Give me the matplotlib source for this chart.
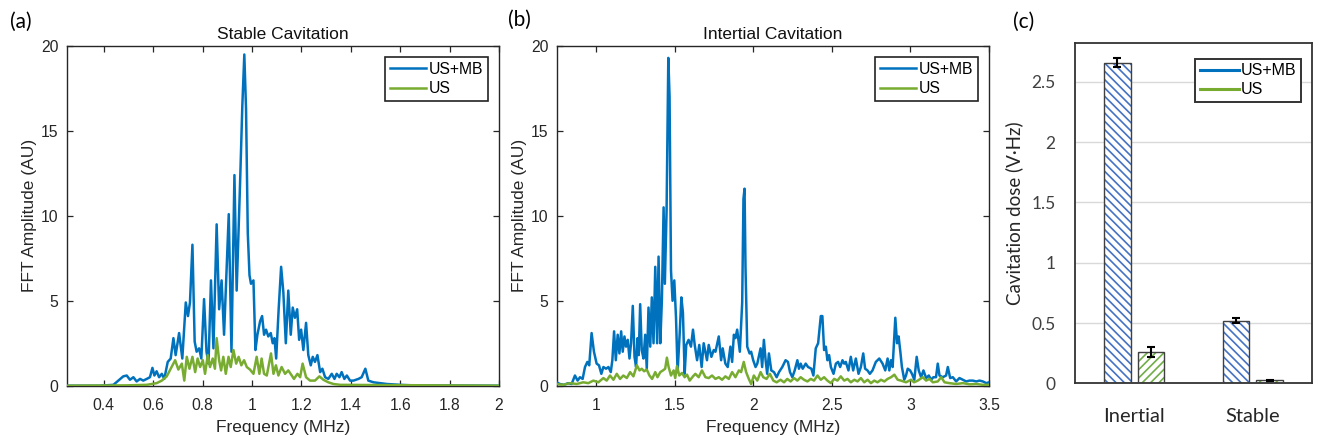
import matplotlib
matplotlib.use("Agg")
import matplotlib.pyplot as plt
from matplotlib.lines import Line2D

# ---------------- data ----------------
# (a) Stable cavitation spectrum
stable_f_mb = [0.25, 0.385, 0.439, 0.459, 0.479, 0.493, 0.506, 0.520, 0.533, 0.547, 0.560, 0.574,
               0.587, 0.597, 0.605, 0.614, 0.624, 0.635, 0.645, 0.659, 0.671, 0.682, 0.691, 0.705,
               0.718, 0.732, 0.741, 0.749, 0.759, 0.768, 0.776, 0.786, 0.795, 0.806, 0.816, 0.824,
               0.834, 0.844, 0.857, 0.867, 0.877, 0.887, 0.906, 0.917, 0.929, 0.938, 0.952, 0.961,
               0.969, 0.976, 0.983, 0.990, 0.996, 1.006, 1.014, 1.022, 1.033, 1.041, 1.049, 1.057,
               1.066, 1.076, 1.084, 1.091, 1.098, 1.108, 1.118, 1.127, 1.137, 1.147, 1.157, 1.165,
               1.174, 1.183, 1.191, 1.199, 1.208, 1.219, 1.228, 1.238, 1.246, 1.255, 1.265, 1.276,
               1.285, 1.296, 1.309, 1.323, 1.334, 1.343, 1.354, 1.363, 1.374, 1.384, 1.397, 1.411,
               1.431, 1.444, 1.459, 1.471, 1.492, 1.519, 1.546, 1.600, 1.654, 2.0]
stable_a_mb = [0.0, 0.0, 0.05, 0.3, 0.55, 0.6, 0.35, 0.5, 0.25, 0.4, 0.3, 0.4,
               0.5, 1.05, 0.6, 0.85, 0.5, 0.7, 0.4, 1.4, 1.6, 2.8, 1.8, 3.1,
               1.6, 4.9, 4.1, 4.9, 8.3, 2.6, 2.0, 2.2, 1.6, 5.1, 2.0, 1.3,
               6.2, 2.2, 9.5, 4.5, 6.2, 3.0, 10.1, 2.0, 12.4, 5.6, 12.0, 16.5,
               19.5, 16.3, 9.0, 6.5, 6.0, 6.2, 2.1, 3.0, 3.8, 4.1, 3.0, 3.3,
               2.9, 3.1, 2.5, 2.8, 1.6, 4.5, 7.0, 5.5, 2.5, 5.6, 3.0, 4.6,
               4.0, 4.5, 2.7, 3.3, 2.1, 3.7, 1.8, 1.2, 1.7, 1.4, 1.8, 0.8,
               1.0, 0.5, 0.4, 0.7, 0.4, 0.7, 0.5, 0.8, 0.4, 0.6, 0.3, 0.3,
               0.4, 0.5, 1.0, 0.3, 0.2, 0.15, 0.1, 0.05, 0.02, 0.0]

stable_f_us = [0.25, 0.493, 0.574, 0.614, 0.635, 0.655, 0.671, 0.689, 0.702, 0.716, 0.726, 0.736,
               0.747, 0.759, 0.770, 0.780, 0.790, 0.801, 0.810, 0.821, 0.830, 0.841, 0.850, 0.857,
               0.867, 0.875, 0.884, 0.894, 0.905, 0.914, 0.925, 0.936, 0.946, 0.957, 0.968, 0.979,
               0.992, 1.006, 1.019, 1.030, 1.039, 1.049, 1.060, 1.077, 1.087, 1.097, 1.107, 1.120,
               1.134, 1.147, 1.161, 1.170, 1.184, 1.195, 1.205, 1.219, 1.235, 1.255, 1.273, 1.289,
               1.309, 1.330, 1.357, 2.0]
stable_a_us = [0.0, 0.02, 0.05, 0.15, 0.3, 0.55, 1.0, 1.5, 0.95, 1.3, 0.3, 1.7,
               1.0, 1.7, 0.8, 1.6, 1.1, 1.5, 0.7, 1.8, 1.1, 1.6, 1.0, 2.8,
               1.5, 0.9, 1.7, 0.7, 1.7, 1.1, 2.1, 1.3, 1.7, 1.2, 1.5, 1.1,
               0.95, 0.7, 1.7, 0.7, 1.6, 0.7, 0.6, 1.9, 0.7, 1.2, 0.6, 1.1,
               0.7, 0.9, 0.6, 0.4, 0.7, 0.5, 1.3, 0.5, 0.3, 0.3, 0.55, 0.35,
               0.2, 0.1, 0.05, 0.0]

# (b) Inertial cavitation spectrum
inertial_f_mb = [0.749, 0.770, 0.796, 0.823, 0.845, 0.866, 0.883, 0.898, 0.915, 0.930, 0.945, 0.957,
                 0.972, 0.987, 1.004, 1.019, 1.034, 1.047, 1.064, 1.079, 1.094, 1.104, 1.115, 1.126,
                 1.138, 1.149, 1.160, 1.170, 1.181, 1.191, 1.202, 1.213, 1.223, 1.234, 1.245, 1.255,
                 1.264, 1.272, 1.281, 1.291, 1.302, 1.313, 1.323, 1.334, 1.345, 1.355, 1.366, 1.377,
                 1.389, 1.398, 1.409, 1.419, 1.430, 1.438, 1.449, 1.460, 1.468, 1.477, 1.487, 1.498,
                 1.509, 1.519, 1.532, 1.543, 1.553, 1.564, 1.574, 1.589, 1.604, 1.617, 1.628, 1.643,
                 1.657, 1.672, 1.685, 1.706, 1.717, 1.734, 1.749, 1.760, 1.781, 1.796, 1.806, 1.823,
                 1.838, 1.855, 1.866, 1.877, 1.887, 1.898, 1.915, 1.930, 1.938, 1.945, 1.951, 1.962,
                 1.977, 1.987, 2.000, 2.015, 2.026, 2.047, 2.057, 2.068, 2.079, 2.089, 2.100, 2.115,
                 2.132, 2.149, 2.164, 2.185, 2.206, 2.221, 2.234, 2.249, 2.264, 2.281, 2.291, 2.302,
                 2.315, 2.334, 2.349, 2.370, 2.383, 2.398, 2.413, 2.430, 2.440, 2.451, 2.462, 2.472,
                 2.483, 2.494, 2.511, 2.526, 2.540, 2.553, 2.568, 2.579, 2.589, 2.606, 2.621, 2.636,
                 2.653, 2.670, 2.685, 2.700, 2.712, 2.727, 2.742, 2.759, 2.780, 2.802, 2.823, 2.840,
                 2.855, 2.866, 2.876, 2.887, 2.904, 2.915, 2.925, 2.936, 2.946, 2.961, 2.972, 2.983,
                 2.998, 3.010, 3.025, 3.040, 3.053, 3.068, 3.083, 3.100, 3.117, 3.132, 3.146, 3.163,
                 3.174, 3.185, 3.206, 3.227, 3.238, 3.253, 3.270, 3.291, 3.312, 3.334, 3.355, 3.376,
                 3.397, 3.419, 3.440, 3.461, 3.483, 3.5]
inertial_a_mb = [0.2, 0.1, 0.05, 0.15, 0.1, 0.6, 0.3, 0.5, 0.4, 1.1, 1.4, 1.2,
                 3.1, 2.0, 1.3, 1.2, 0.7, 1.1, 1.0, 1.1, 0.8, 1.5, 3.2, 1.5,
                 3.0, 1.9, 3.2, 2.0, 2.9, 2.3, 2.7, 1.6, 2.5, 4.7, 1.7, 1.1,
                 2.8, 1.8, 4.8, 2.1, 1.6, 3.0, 1.0, 4.6, 2.3, 5.2, 2.5, 7.0,
                 2.5, 7.6, 2.5, 5.0, 10.5, 6.0, 10.3, 19.3, 17.0, 6.8, 5.0, 6.2,
                 4.0, 0.8, 3.0, 5.2, 4.3, 0.7, 2.4, 2.7, 2.3, 3.3, 2.4, 1.5,
                 2.4, 1.1, 2.5, 1.5, 2.4, 1.7, 2.1, 2.0, 2.9, 1.5, 2.2, 1.3,
                 1.1, 2.3, 1.4, 3.0, 2.8, 3.3, 2.0, 4.9, 11.0, 11.6, 7.0, 2.3,
                 1.9, 2.0, 1.5, 1.1, 1.3, 2.2, 1.1, 2.7, 1.5, 0.7, 1.9, 0.9,
                 0.8, 0.5, 0.8, 1.1, 1.5, 1.4, 0.8, 0.5, 0.9, 1.5, 1.0, 1.3,
                 1.0, 1.3, 1.1, 1.0, 0.6, 2.2, 2.5, 4.1, 4.1, 2.1, 2.3, 1.5,
                 1.8, 1.1, 0.7, 1.3, 1.4, 1.1, 1.5, 1.3, 1.4, 0.9, 1.7, 0.9,
                 1.6, 0.7, 1.1, 1.9, 1.0, 0.9, 0.7, 0.9, 1.4, 1.6, 1.3, 0.9,
                 1.6, 0.9, 1.5, 1.1, 4.0, 2.5, 2.9, 2.0, 1.1, 0.35, 0.6, 1.0,
                 0.9, 0.7, 0.35, 1.7, 0.9, 0.5, 0.9, 0.45, 0.6, 0.35, 0.5, 0.5,
                 1.3, 0.6, 0.5, 0.6, 1.1, 0.45, 0.5, 0.25, 0.45, 0.35, 0.25, 0.3,
                 0.3, 0.25, 0.3, 0.25, 0.15, 0.2]

inertial_f_us = [0.749, 0.791, 0.834, 0.877, 0.919, 0.951, 0.983, 1.015, 1.047, 1.068, 1.089, 1.111,
                 1.132, 1.153, 1.174, 1.196, 1.217, 1.238, 1.260, 1.277, 1.291, 1.306, 1.323, 1.340,
                 1.357, 1.377, 1.391, 1.409, 1.426, 1.440, 1.451, 1.462, 1.477, 1.494, 1.504, 1.515,
                 1.530, 1.547, 1.564, 1.579, 1.596, 1.617, 1.632, 1.653, 1.674, 1.696, 1.717, 1.738,
                 1.760, 1.781, 1.802, 1.823, 1.845, 1.866, 1.887, 1.909, 1.923, 1.940, 1.955, 1.972,
                 1.987, 2.004, 2.026, 2.047, 2.064, 2.085, 2.106, 2.128, 2.149, 2.174, 2.196, 2.217,
                 2.238, 2.260, 2.281, 2.302, 2.323, 2.345, 2.366, 2.387, 2.409, 2.430, 2.451, 2.472,
                 2.494, 2.515, 2.536, 2.557, 2.579, 2.600, 2.621, 2.643, 2.664, 2.685, 2.706, 2.728,
                 2.749, 2.770, 2.791, 2.813, 2.834, 2.855, 2.877, 2.898, 2.919, 2.940, 2.972, 3.004,
                 3.023, 3.047, 3.079, 3.100, 3.121, 3.143, 3.174, 3.196, 3.217, 3.249, 3.291, 3.334,
                 3.376, 3.419, 3.462, 3.5]
inertial_a_us = [0.1, 0.05, 0.15, 0.1, 0.2, 0.15, 0.3, 0.2, 0.45, 0.3, 0.6, 0.35,
                 0.7, 0.4, 0.6, 0.45, 0.8, 0.55, 1.2, 0.9, 1.0, 0.85, 0.95, 0.6,
                 0.4, 0.8, 0.5, 0.8, 0.9, 1.0, 1.65, 1.1, 0.6, 0.9, 0.45, 1.15,
                 0.6, 0.75, 0.5, 0.65, 0.3, 0.55, 0.7, 0.5, 0.9, 0.5, 0.45, 0.6,
                 0.4, 0.5, 0.35, 0.55, 0.4, 0.8, 0.5, 0.9, 0.8, 1.4, 0.8, 0.4,
                 0.1, 0.6, 0.3, 0.8, 0.5, 0.4, 0.7, 0.3, 0.2, 0.35, 0.2, 0.4,
                 0.25, 0.45, 0.3, 0.5, 0.35, 0.25, 0.4, 0.3, 0.6, 0.35, 0.5, 0.3,
                 0.15, 0.4, 0.3, 0.55, 0.3, 0.4, 0.2, 0.35, 0.25, 0.45, 0.2, 0.35,
                 0.15, 0.3, 0.2, 0.35, 0.25, 0.4, 0.5, 0.65, 0.35, 0.3, 0.2, 0.35,
                 0.2, 0.3, 0.5, 0.3, 0.4, 0.2, 0.25, 0.5, 0.2, 0.15, 0.1, 0.15,
                 0.08, 0.1, 0.05, 0.05]

# (c) Cavitation dose
dose_categories = ["Inertial", "Stable"]
dose_mb = [2.66, 0.52]
dose_mb_err = [0.04, 0.02]
dose_us = [0.26, 0.025]
dose_us_err = [0.04, 0.005]

series_labels = ["US+MB", "US"]

# ---------------- style ----------------
BLUE = "#0072BD"
GREEN = "#77AC30"
HBLUE = "#4472C4"
HGREEN = "#70AD47"
AX = "#262626"
ARIAL = ["Liberation Sans", "DejaVu Sans"]
CAL = ["Lato", "DejaVu Sans"]

plt.rcParams["hatch.linewidth"] = 1.2

fig = plt.figure(figsize=(13.2, 4.43), dpi=100)
W, H = 1320.0, 443.0


def axes_px(x0, y0, x1, y1):
    return fig.add_axes([x0 / W, 1 - y1 / H, (x1 - x0) / W, (y1 - y0) / H])


def spectrum(ax, f1, a1, f2, a2, xlim, xticks, xticklabels, title):
    ax.plot(f1, a1, color=BLUE, lw=1.8, label=series_labels[0], zorder=3)
    ax.plot(f2, a2, color=GREEN, lw=1.8, label=series_labels[1], zorder=4)
    ax.set_xlim(*xlim)
    ax.set_ylim(0, 20)
    ax.set_xticks(xticks)
    ax.set_xticklabels(xticklabels)
    ax.set_yticks([0, 5, 10, 15, 20])
    ax.tick_params(direction="in", top=True, right=True, length=4, width=0.9,
                   colors=AX, labelsize=11.3)
    ax.tick_params(axis="x", pad=9)
    ax.tick_params(axis="y", pad=6)
    for lab in ax.get_xticklabels() + ax.get_yticklabels():
        lab.set_family(ARIAL)
    for s in ax.spines.values():
        s.set_color(AX)
        s.set_linewidth(1.0)
    ax.set_xlabel("Frequency (MHz)", family=ARIAL, fontsize=12.5, color=AX, labelpad=5)
    ax.set_ylabel("FFT Amplitude (AU)", family=ARIAL, fontsize=12.5, color=AX, labelpad=3)
    ax.set_title(title, family=ARIAL, fontsize=12.5, color="#111111", pad=5)
    leg = ax.legend(loc="upper right", bbox_to_anchor=(0.975, 0.968), fancybox=False,
                    edgecolor="#222222", framealpha=1, handlelength=2.3,
                    handletextpad=0.2, borderpad=0.3, labelspacing=0.3,
                    prop={"family": ARIAL, "size": 11.3}, borderaxespad=0)
    leg.get_frame().set_linewidth(1.2)


ax_a = axes_px(66.7, 46, 499, 385.7)
spectrum(ax_a, stable_f_mb, stable_a_mb, stable_f_us, stable_a_us, (0.25, 2.0),
         [0.4, 0.6, 0.8, 1.0, 1.2, 1.4, 1.6, 1.8, 2.0],
         ["0.4", "0.6", "0.8", "1", "1.2", "1.4", "1.6", "1.8", "2"], "Stable Cavitation")

ax_b = axes_px(556.7, 46, 989, 385.7)
spectrum(ax_b, inertial_f_mb, inertial_a_mb, inertial_f_us, inertial_a_us, (0.75, 3.5),
         [1, 1.5, 2, 2.5, 3, 3.5], ["1", "1.5", "2", "2.5", "3", "3.5"], "Intertial Cavitation")

# (c)
ax_c = axes_px(1075, 43.3, 1312, 383.3)
xpos = list(range(len(dose_categories)))
off = 0.142
bw = 0.225
x_mb = [x - off for x in xpos]
x_us = [x + off for x in xpos]
ax_c.bar(x_mb, dose_mb, width=bw, color="white", edgecolor=HBLUE, hatch="\\\\\\\\",
         linewidth=0, zorder=2)
ax_c.bar(x_mb, dose_mb, width=bw, fill=False, edgecolor="#404040", linewidth=1.0, zorder=3)
ax_c.bar(x_us, dose_us, width=bw, color="white", edgecolor=HGREEN, hatch="////",
         linewidth=0, zorder=2)
ax_c.bar(x_us, dose_us, width=bw, fill=False, edgecolor="#404040", linewidth=1.0, zorder=3)
ax_c.errorbar(x_mb, dose_mb, yerr=dose_mb_err, fmt="none", ecolor="black", elinewidth=1.5,
              capsize=3, capthick=1.5, zorder=4)
ax_c.errorbar(x_us, dose_us, yerr=dose_us_err, fmt="none", ecolor="black", elinewidth=1.5,
              capsize=3, capthick=1.5, zorder=4)
ax_c.set_xlim(-0.5, 1.5)
ax_c.set_ylim(0, 2.82)
ax_c.set_yticks([0, 0.5, 1, 1.5, 2, 2.5])
ax_c.set_yticklabels(["0", "0.5", "1", "1.5", "2", "2.5"])
ax_c.set_xticks(xpos)
ax_c.set_xticklabels(dose_categories)
ax_c.tick_params(axis="y", length=0, labelsize=12.5, colors="#404040", pad=14)
ax_c.tick_params(axis="x", length=0, labelsize=14.5, colors="#262626", pad=18)
for lab in ax_c.get_xticklabels() + ax_c.get_yticklabels():
    lab.set_family(CAL)
ax_c.yaxis.grid(True, color="#d9d9d9", linewidth=1.0, zorder=0)
ax_c.set_axisbelow(True)
for s in ax_c.spines.values():
    s.set_color("#333333")
    s.set_linewidth(1.3)
ax_c.set_ylabel("Cavitation dose (V\u00b7Hz)", family=CAL, fontsize=13.5, color="#262626",
                labelpad=6)
handles = [Line2D([], [], color=BLUE, lw=2.2), Line2D([], [], color=GREEN, lw=2.2)]
legc = ax_c.legend(handles, series_labels, loc="upper right", bbox_to_anchor=(0.955, 0.955),
                   fancybox=False, edgecolor="#333333", framealpha=1, handlelength=2.4,
                   handletextpad=0.15, borderpad=0.3, labelspacing=0.25,
                   prop={"family": ARIAL, "size": 11.5}, borderaxespad=0)
legc.get_frame().set_linewidth(1.4)

# panel letters
fig.text(10 / W, 1 - 22 / H, "(a)", family=CAL, fontsize=15, va="center", ha="left")
fig.text(508 / W, 1 - 20 / H, "(b)", family=CAL, fontsize=15, va="center", ha="left")
fig.text(1013 / W, 1 - 22 / H, "(c)", family=CAL, fontsize=15, va="center", ha="left")

fig.savefig("out.png", dpi=100)
